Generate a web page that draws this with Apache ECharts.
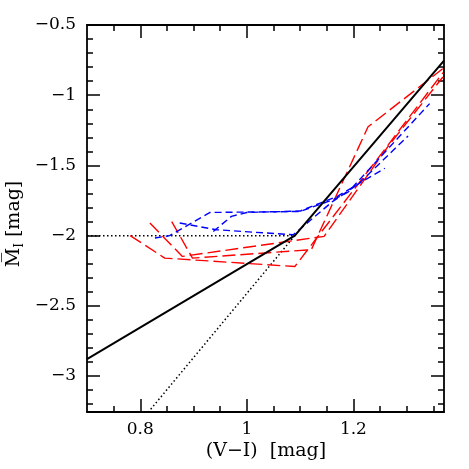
<!DOCTYPE html>
<html>
<head>
<meta charset="utf-8">
<script src="https://cdn.jsdelivr.net/npm/echarts@6/dist/echarts.min.js"></script>
<style>
  html, body { margin: 0; padding: 0; background: #fff; }
  #chart { width: 469px; height: 469px; }
</style>
</head>
<body>
<div id="chart"></div>
<script>
// axis ranges and ticks
const xRange = [0.7, 1.37]
const yRange = [-3.256, -0.5]
const xMajor = [0.8, 1.0, 1.2]
const xMinor = [0.75, 0.85, 0.9, 0.95, 1.05, 1.1, 1.15, 1.25, 1.3, 1.35]
const yMajor = [-3, -2.5, -2, -1.5, -1, -0.5]
const yMinor = [-3.2, -3.1, -2.9, -2.8, -2.7, -2.6, -2.4, -2.3, -2.2, -2.1,
  -1.9, -1.8, -1.7, -1.6, -1.4, -1.3, -1.2, -1.1, -0.9, -0.8, -0.7, -0.6]

// black relations
const solidFit = [[0.70, -2.88], [1.09, -2.00], [1.37, -0.754]]
const dotFlat = [[0.70, -2.00], [1.09, -2.00]]
const dotSteep = [[0.81, -3.28], [1.09, -2.00]]

// red long-dashed tracks
const redA = [[0.781, -2.00], [0.846, -2.16], [1.09, -2.22], [1.26, -1.38], [1.368, -0.84]]
const redB = [[0.818, -1.91], [0.879, -2.148], [1.145, -2.005], [1.265, -1.365], [1.368, -0.87]]
const redC = [[0.859, -1.90], [0.898, -2.16], [1.121, -2.10], [1.2275, -1.225], [1.368, -0.81]]

// blue short-dashed tracks
const blueA = [[0.8275, -2.017], [0.855, -2.00], [0.931, -1.835], [1.0994, -1.828], [1.162, -1.744], [1.19, -1.69], [1.343, -1.06]]
const blueB = [[0.874, -1.91], [0.943, -1.958], [1.087, -1.994], [1.16, -1.76], [1.21, -1.63], [1.3025, -1.29]]
const blueC = [[0.937, -1.97], [0.971, -1.863], [1.0, -1.835], [1.10, -1.825], [1.17, -1.72], [1.259, -1.52]]

const FONT = 'DejaVu Serif'
const ink = '#000'

const fmt = v => (v < 0 ? '\u2212' : '') + Math.abs(+v.toFixed(2))

function xAx (pos, ticks, len, showLine, labels) {
  return {
    type: 'value', position: pos, min: xRange[0], max: xRange[1],
    axisLine: { show: showLine, onZero: false, lineStyle: { color: ink, width: 1.8 } },
    axisTick: { show: true, inside: true, length: len, customValues: ticks, lineStyle: { color: ink, width: 1.5 } },
    axisLabel: labels
      ? { show: true, customValues: xMajor, formatter: fmt, color: ink, fontFamily: FONT, fontSize: 17, margin: 9 }
      : { show: false },
    splitLine: { show: false }
  }
}

function yAx (pos, ticks, len, showLine, labels) {
  return {
    type: 'value', position: pos, min: yRange[0], max: yRange[1],
    axisLine: { show: showLine, onZero: false, lineStyle: { color: ink, width: 1.8 } },
    axisTick: { show: true, inside: true, length: len, customValues: ticks, lineStyle: { color: ink, width: 1.5 } },
    axisLabel: labels
      ? { show: true, customValues: yMajor, formatter: fmt, color: ink, fontFamily: FONT, fontSize: 17, margin: 11 }
      : { show: false },
    splitLine: { show: false }
  }
}

function track (data, color, dash, width) {
  return {
    type: 'line', data, xAxisIndex: 0, yAxisIndex: 0,
    symbol: 'none', clip: true, animation: false,
    lineStyle: { color, width, type: dash }
  }
}

const chart = echarts.init(document.getElementById('chart'), null, { renderer: 'canvas' })

chart.setOption({
  animation: false,
  backgroundColor: '#fff',
  grid: { left: 87, right: 25, top: 25, bottom: 57, containLabel: false },
  xAxis: [
    xAx('bottom', xMajor, 13, true, true),
    xAx('bottom', xMinor, 6, false, false),
    xAx('top', xMajor, 13, true, false),
    xAx('top', xMinor, 6, false, false)
  ],
  yAxis: [
    yAx('left', yMajor, 13, true, true),
    yAx('left', yMinor, 6, false, false),
    yAx('right', yMajor, 13, true, false),
    yAx('right', yMinor, 6, false, false)
  ],
  graphic: [
    {
      type: 'text', x: 266, y: 442,
      style: { text: '(V\u2212I)  [mag]', fill: ink, font: '19px "DejaVu Serif"', align: 'center' }
    },
    {
      type: 'text', x: 2, y: 224, rotation: Math.PI / 2,
      style: {
        text: '{m|M\u0305}{s|I}{m| [mag]}',
        fill: ink, align: 'center', verticalAlign: 'top',
        rich: {
          m: { fontFamily: FONT, fontSize: 19, lineHeight: 24, fill: ink },
          s: { fontFamily: FONT, fontSize: 12, lineHeight: 12, verticalAlign: 'bottom', fill: ink }
        }
      }
    }
  ],
  series: [
    track(dotFlat, ink, [1.5, 2.5], 1.5),
    track(dotSteep, ink, [1.5, 2.5], 1.5),
    track(redA, '#ff0000', [13, 5], 1.4),
    track(redB, '#ff0000', [13, 5], 1.4),
    track(redC, '#ff0000', [13, 5], 1.4),
    track(blueA, '#0000ff', [7, 4], 1.4),
    track(blueB, '#0000ff', [7, 4], 1.4),
    track(blueC, '#0000ff', [7, 4], 1.4),
    track(solidFit, ink, 'solid', 2)
  ]
})
</script>
</body>
</html>
